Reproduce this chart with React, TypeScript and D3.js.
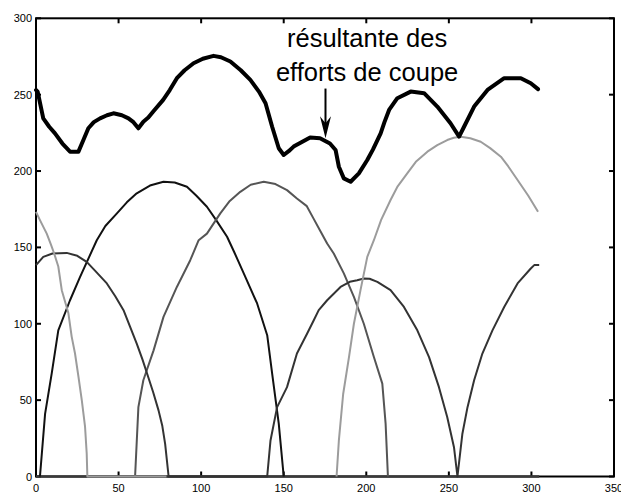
import React from "react";
import * as d3 from "d3";

// ---- data ----
const xTicks = [0, 50, 100, 150, 200, 250, 300, 350];
const yTicks = [0, 50, 100, 150, 200, 250, 300];

const resX = [0, 1, 4.4, 8, 11.5, 16, 20.6, 25.7, 28.7, 31.7, 35, 38.8, 43, 46.9, 52, 56, 59, 62, 65, 68, 71, 77, 81, 85.3, 90, 95.4, 101, 107.5, 112, 117.7, 124, 129.8, 135, 139, 143, 147, 150, 153, 156, 161, 166, 172, 178, 181.4, 183.4, 186.4, 190.5, 195.5, 200.6, 204, 208.7, 211, 213.8, 218.8, 226.9, 235, 243, 251, 256.2, 259.2, 265.3, 273.4, 283.5, 293.6, 299.6, 304];
const resY = [253, 252, 234.5, 229, 224.7, 218, 212.7, 212.7, 220.3, 228, 232, 234.5, 236.5, 237.8, 236.5, 234.5, 232, 228, 232.3, 235, 239, 246.6, 253, 260.8, 266, 270.6, 273.5, 275.4, 274.5, 271.7, 266, 259.7, 252, 244.4, 229, 214.9, 210.5, 213, 216, 219, 222, 221.5, 218, 213.8, 202.8, 195.2, 193, 198.5, 207.2, 214, 224.7, 232, 240, 247.7, 252, 251, 242.2, 231.3, 222.5, 229, 242.2, 253.1, 260.8, 260.8, 257.5, 253.6];

const lightLeftX = [0, 2.4, 6.5, 9, 11, 13.5, 15.6, 19.6, 21.6, 23.6, 25.7, 27.7, 29.7, 30.7, 31.1, 79];
const lightLeftY = [173.3, 167.9, 159, 152, 146, 137.5, 122, 107, 91.6, 80.7, 65.4, 50.1, 32.6, 15.2, 0, 0];

const lightRightX = [182, 183.4, 186, 189.5, 192.5, 196.5, 200.6, 204.6, 209, 214.7, 219, 224.8, 230, 237, 243, 249, 253, 257.2, 263, 269.3, 275, 281.5, 286, 291.6, 298, 304];
const lightRightY = [0, 23.6, 54, 78, 100, 122, 143.8, 154.7, 168, 181, 190, 198.5, 206, 212.7, 217, 220.3, 221.8, 222.5, 221.5, 219.2, 215, 209.4, 203, 194.1, 184, 173.3];

const blackX = [2.4, 5.5, 9.5, 13.5, 20.6, 26.7, 36.8, 42, 49, 55, 61, 69, 77.2, 84, 91.4, 97, 103.5, 109, 115.7, 120, 125.8, 133.9, 140, 143, 147, 150];
const blackY = [0, 41, 67.3, 95.7, 115.4, 130.7, 154.7, 164, 172.3, 179.5, 185.4, 190.5, 193, 192.5, 189.7, 184, 176.6, 168, 157, 147, 133, 113.3, 92.5, 67.3, 34.6, 0];

const midX = [60, 62, 65, 71.2, 77.2, 85.3, 93.4, 98.5, 103.5, 111.6, 117, 123.7, 130, 137.9, 145, 152, 158, 164, 168, 172, 176.3, 180.3, 186.4, 192.5, 198.5, 204.6, 209.7, 211.7, 213.1];
const midY = [0, 45.4, 63, 82.6, 104.5, 124.1, 141.6, 154.7, 159, 172.3, 180, 186.4, 191, 193, 191.5, 187.5, 182, 177, 169, 161, 152.6, 146, 133, 117.6, 100, 78.2, 60.8, 34.6, 0];

const darkX = [0, 4.4, 10, 18.6, 25, 30.7, 36, 42.9, 48, 53, 57, 61, 64.5, 68, 71, 74.2, 76.5, 78.2, 80.3, 140, 142, 146, 152, 158, 164.2, 168.2, 171.2, 176.3, 184.4, 190, 194.5, 198.5, 202, 206.7, 214.7, 222.8, 230.9, 238, 244, 249, 253.1, 255.2, 258.2, 261.3, 265.3, 270.3, 276.4, 283.5, 291.6, 299.6, 301.7, 304.7];
const darkY = [138.4, 143.8, 146, 146.4, 144.5, 140.5, 134.5, 126.4, 118, 108.9, 98, 87, 76.5, 65, 55, 43.3, 33, 21.4, 0, 0, 23.6, 45.4, 58.5, 80.5, 93.6, 102.3, 108.9, 115.4, 124.1, 127.5, 128.5, 129.6, 129.5, 127.4, 122, 111, 95.7, 78.2, 58.5, 38.9, 19.2, 0, 28, 45.4, 63, 80.5, 95.7, 111, 126.4, 136.2, 138.4, 138.4];

const labelLines = ["résultante des", "efforts de coupe"];
const labelX = 200.5;
const labelY = [281, 259];
const arrowX = 175.3;
const arrowFrom = 254;
const arrowTo = 221.4;

export default function App() {
  const W = 621, H = 493;
  const x = d3.scaleLinear().domain([0, 350]).range([36, 614]);
  const y = d3.scaleLinear().domain([0, 300]).range([476.5, 18.3]);
  const line = d3.line<[number, number]>().x(d => x(d[0])).y(d => y(d[1]));
  const zip = (xs: number[], ys: number[]) => xs.map((v, i) => [v, ys[i]] as [number, number]);
  const maxX = d3.max([...resX, ...darkX]) as number;
  const font = "'Liberation Sans', Arial, sans-serif";
  const tl = 5;
  const [x0, x1] = x.range();
  const [y0, y1] = y.range();

  const series = [
    { d: zip(blackX, blackY), c: "#111", w: 2 },
    { d: zip(midX, midY), c: "#555", w: 2 },
    { d: zip(darkX, darkY), c: "#333", w: 2 },
    { d: zip(lightRightX, lightRightY), c: "#9c9c9c", w: 2 },
    { d: zip(lightLeftX, lightLeftY), c: "#9c9c9c", w: 2 },
  ];

  const ax = x(arrowX), ay0 = y(arrowFrom), ay1 = y(arrowTo);

  return (
    <svg width={W} height={H} style={{ position: "absolute", left: 0, top: 0, background: "#fff" }}>
      <rect x={0} y={0} width={W} height={H} fill="#fff" />
      {/* frame */}
      <rect x={x0} y={y1} width={x1 - x0} height={y0 - y1} fill="none" stroke="#000" strokeWidth={2} />
      {xTicks.map(t => (
        <g key={"xt" + t}>
          <line x1={x(t)} x2={x(t)} y1={y0} y2={y0 - tl} stroke="#000" strokeWidth={2} />
          <line x1={x(t)} x2={x(t)} y1={y1} y2={y1 + tl} stroke="#000" strokeWidth={2} />
          <text x={x(t)} y={y0 + 15} fontSize={11} fontFamily={font} textAnchor="middle">{t}</text>
        </g>
      ))}
      {yTicks.map(t => (
        <g key={"yt" + t}>
          <line x1={x0} x2={x0 + tl} y1={y(t)} y2={y(t)} stroke="#000" strokeWidth={2} />
          <line x1={x1} x2={x1 - tl} y1={y(t)} y2={y(t)} stroke="#000" strokeWidth={2} />
          <text x={x0 - 4} y={y(t) + 4} fontSize={11} fontFamily={font} textAnchor="end">{t}</text>
        </g>
      ))}
      {/* zero-level line over the data range */}
      <path d={line([[0, 0], [maxX, 0]]) || ""} stroke="#3a3a3a" strokeWidth={2.5} fill="none" />
      {series.map((s, i) => (
        <path key={i} d={line(s.d) || ""} stroke={s.c} strokeWidth={s.w} fill="none" strokeLinejoin="round" />
      ))}
      <path d={line(zip(resX, resY)) || ""} stroke="#000" strokeWidth={4} fill="none" strokeLinejoin="round" strokeLinecap="round" />
      {/* annotation */}
      {labelLines.map((l, i) => (
        <text key={l} x={x(labelX)} y={y(labelY[i])} fontSize={25.5} fontFamily={font} textAnchor="middle" fill="#000">{l}</text>
      ))}
      <line x1={ax} x2={ax} y1={ay0} y2={ay1 - 10} stroke="#000" strokeWidth={2} />
      <path d={`M${ax},${ay1} L${ax - 5.5},${ay1 - 22} L${ax},${ay1 - 15} L${ax + 5.5},${ay1 - 22} Z`} fill="#000" />
    </svg>
  );
}
